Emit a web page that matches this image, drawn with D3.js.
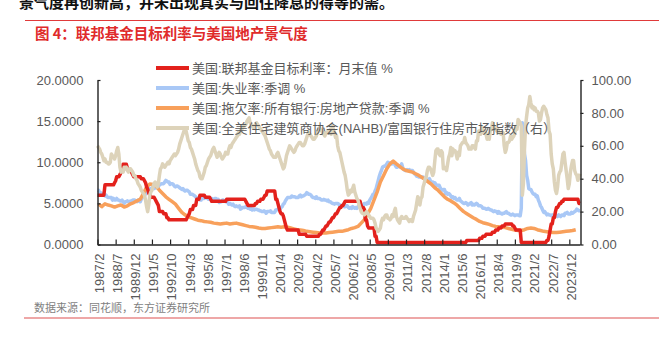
<!DOCTYPE html>
<html><head><meta charset="utf-8">
<script src="https://cdn.jsdelivr.net/npm/d3@7"></script>
<style>body{margin:0;background:#fff}svg{display:block}</style>
</head><body><svg id="c" width="659" height="339"></svg>
<script>
// ---------------- DATA ----------------
const firstYear = 1987, firstMonth = 2, lastYear = 2024, lastMonth = 10;
const tickLabels = ["1987/2","1988/7","1989/12","1991/5","1992/10","1994/3","1995/8","1997/1","1998/6","1999/11","2001/4","2002/9","2004/2","2005/7","2006/12","2008/5","2009/10","2011/3","2012/8","2014/1","2015/6","2016/11","2018/4","2019/9","2021/2","2022/7","2023/12"];
const leftTicks = [0, 5, 10, 15, 20];
const rightTicks = [0, 20, 40, 60, 80, 100];
const seriesNames = ["美国:联邦基金目标利率：月末值 %","美国:失业率:季调 %","美国:拖欠率:所有银行:房地产贷款:季调 %","美国:全美住宅建筑商协会(NAHB)/富国银行住房市场指数（右）"];

// monthly, 1987/2 - 2024/10
const fedRate = [
6.0,6.0,6.0,6.0,6.0,6.0,6.0,7.25,7.25,7.25,7.25,
7.25,7.25,7.25,7.25,7.25,7.5,7.75,8.25,8.25,8.25,8.5,8.75,
9.0,9.75,9.75,9.75,9.75,9.25,9.0,9.0,9.0,8.75,8.5,8.25,
8.25,8.25,8.25,8.25,8.25,8.25,8.0,8.0,8.0,7.75,7.5,7.0,
6.75,6.25,6.0,5.75,5.75,5.75,5.75,5.5,5.25,5.0,4.75,4.0,
4.0,4.0,4.0,3.75,3.75,3.75,3.25,3.25,3.0,3.0,3.0,3.0,
3.0,3.0,3.0,3.0,3.0,3.0,3.0,3.0,3.0,3.0,3.0,3.0,
3.0,3.25,3.5,3.75,4.25,4.25,4.25,4.75,4.75,4.75,5.5,5.5,
5.5,6.0,6.0,6.0,6.0,6.0,5.75,5.75,5.75,5.75,5.75,5.5,
5.25,5.25,5.25,5.25,5.25,5.25,5.25,5.25,5.25,5.25,5.25,5.25,
5.25,5.25,5.5,5.5,5.5,5.5,5.5,5.5,5.5,5.5,5.5,5.5,
5.5,5.5,5.5,5.5,5.5,5.5,5.5,5.5,5.25,5.0,4.75,4.75,
4.75,4.75,4.75,4.75,4.75,5.0,5.0,5.25,5.25,5.25,5.5,5.5,
5.5,5.75,6.0,6.0,6.5,6.5,6.5,6.5,6.5,6.5,6.5,6.5,
5.5,5.5,5.0,4.5,4.0,3.75,3.75,3.5,3.0,2.5,2.0,1.75,
1.75,1.75,1.75,1.75,1.75,1.75,1.75,1.75,1.75,1.75,1.25,1.25,
1.25,1.25,1.25,1.25,1.25,1.0,1.0,1.0,1.0,1.0,1.0,1.0,
1.0,1.0,1.0,1.0,1.0,1.25,1.25,1.5,1.75,1.75,2.0,2.25,
2.25,2.5,2.75,2.75,3.0,3.25,3.25,3.5,3.75,3.75,4.0,4.25,
4.5,4.5,4.75,4.75,5.0,5.25,5.25,5.25,5.25,5.25,5.25,5.25,
5.25,5.25,5.25,5.25,5.25,5.25,5.25,5.25,4.75,4.5,4.5,4.25,
3.0,3.0,2.25,2.0,2.0,2.0,2.0,2.0,2.0,1.0,1.0,0.25,
0.25,0.25,0.25,0.25,0.25,0.25,0.25,0.25,0.25,0.25,0.25,0.25,
0.25,0.25,0.25,0.25,0.25,0.25,0.25,0.25,0.25,0.25,0.25,0.25,
0.25,0.25,0.25,0.25,0.25,0.25,0.25,0.25,0.25,0.25,0.25,0.25,
0.25,0.25,0.25,0.25,0.25,0.25,0.25,0.25,0.25,0.25,0.25,0.25,
0.25,0.25,0.25,0.25,0.25,0.25,0.25,0.25,0.25,0.25,0.25,0.25,
0.25,0.25,0.25,0.25,0.25,0.25,0.25,0.25,0.25,0.25,0.25,0.25,
0.25,0.25,0.25,0.25,0.25,0.25,0.25,0.25,0.25,0.25,0.25,0.5,
0.5,0.5,0.5,0.5,0.5,0.5,0.5,0.5,0.5,0.5,0.5,0.75,
0.75,0.75,1.0,1.0,1.0,1.25,1.25,1.25,1.25,1.25,1.25,1.5,
1.5,1.5,1.75,1.75,1.75,2.0,2.0,2.0,2.25,2.25,2.25,2.5,
2.5,2.5,2.5,2.5,2.5,2.5,2.25,2.25,2.0,1.75,1.75,1.75,
1.75,1.75,0.25,0.25,0.25,0.25,0.25,0.25,0.25,0.25,0.25,0.25,
0.25,0.25,0.25,0.25,0.25,0.25,0.25,0.25,0.25,0.25,0.25,0.25,
0.25,0.25,0.5,0.5,1.0,1.75,2.5,2.5,3.25,3.25,4.0,4.5,
4.5,4.75,5.0,5.0,5.25,5.25,5.5,5.5,5.5,5.5,5.5,5.5,
5.5,5.5,5.5,5.5,5.5,5.5,5.5,5.5,5.0,5.0
];

const unemployment = [
6.6,6.6,6.3,6.3,6.2,6.1,6.0,5.9,6.0,5.8,5.7,
5.7,5.7,5.7,5.4,5.6,5.4,5.4,5.6,5.4,5.4,5.3,5.3,
5.4,5.2,5.0,5.2,5.2,5.3,5.2,5.2,5.3,5.3,5.4,5.4,
5.4,5.3,5.2,5.4,5.4,5.2,5.5,5.7,5.9,5.9,6.2,6.3,
6.4,6.6,6.8,6.7,6.9,6.9,6.8,6.9,6.9,7.0,7.0,7.3,
7.3,7.4,7.4,7.4,7.6,7.8,7.7,7.6,7.6,7.3,7.4,7.4,
7.3,7.1,7.0,7.1,7.1,7.0,6.9,6.8,6.7,6.8,6.6,6.5,
6.6,6.6,6.5,6.4,6.1,6.1,6.1,6.0,5.9,5.8,5.6,5.5,
5.6,5.4,5.4,5.8,5.6,5.6,5.7,5.7,5.6,5.5,5.6,5.6,
5.6,5.5,5.5,5.6,5.6,5.3,5.5,5.1,5.2,5.2,5.4,5.4,
5.3,5.2,5.2,5.1,4.9,5.0,4.9,4.8,4.9,4.7,4.6,4.7,
4.6,4.6,4.7,4.3,4.4,4.5,4.5,4.5,4.6,4.5,4.4,4.4,
4.3,4.4,4.2,4.3,4.2,4.3,4.3,4.2,4.2,4.1,4.1,4.0,
4.0,4.1,4.0,3.8,4.0,4.0,4.0,4.1,3.9,3.9,3.9,3.9,
4.2,4.2,4.3,4.4,4.3,4.5,4.6,4.9,5.0,5.3,5.5,5.7,
5.7,5.7,5.7,5.9,5.8,5.8,5.8,5.7,5.7,5.7,5.9,6.0,
5.8,5.9,5.9,6.0,6.1,6.3,6.2,6.1,6.1,6.0,5.8,5.7,
5.7,5.6,5.8,5.6,5.6,5.6,5.5,5.4,5.4,5.5,5.4,5.4,
5.3,5.4,5.2,5.2,5.1,5.0,5.0,4.9,5.0,5.0,5.0,4.9,
4.7,4.8,4.7,4.7,4.6,4.6,4.7,4.7,4.5,4.4,4.5,4.4,
4.6,4.5,4.4,4.5,4.4,4.6,4.7,4.6,4.7,4.7,4.7,5.0,
5.0,4.9,5.1,5.0,5.4,5.6,5.8,6.1,6.1,6.5,6.8,7.3,
7.8,8.3,8.7,9.0,9.4,9.5,9.5,9.6,9.8,10.0,9.9,9.9,
9.8,9.8,9.9,9.9,9.6,9.4,9.4,9.5,9.5,9.4,9.8,9.3,
9.1,9.0,9.0,9.1,9.0,9.1,9.0,9.0,9.0,8.8,8.6,8.5,
8.3,8.3,8.2,8.2,8.2,8.2,8.2,8.0,7.8,7.8,7.7,7.9,
8.0,7.7,7.5,7.6,7.5,7.5,7.3,7.2,7.2,7.2,6.9,6.7,
6.6,6.7,6.7,6.2,6.3,6.1,6.2,6.1,5.9,5.7,5.8,5.6,
5.7,5.5,5.4,5.4,5.6,5.3,5.2,5.1,5.0,5.0,5.1,5.0,
4.8,4.9,5.0,5.1,4.8,4.9,4.8,4.9,5.0,4.9,4.7,4.7,
4.7,4.6,4.4,4.4,4.4,4.3,4.3,4.4,4.3,4.2,4.2,4.1,
4.0,4.1,4.0,4.0,3.8,4.0,3.8,3.8,3.7,3.8,3.8,3.9,
4.0,3.8,3.8,3.7,3.6,3.6,3.7,3.6,3.5,3.6,3.6,3.6,
3.5,3.5,4.4,14.8,13.2,11.0,10.2,8.4,7.8,6.8,6.7,6.7,
6.4,6.2,6.1,6.1,5.8,5.9,5.4,5.1,4.7,4.5,4.2,3.9,
4.0,3.8,3.6,3.7,3.6,3.6,3.5,3.6,3.5,3.6,3.6,3.5,
3.4,3.6,3.5,3.4,3.6,3.6,3.5,3.8,3.8,3.9,3.7,3.7,
3.7,3.9,3.8,3.9,4.0,4.1,4.3,4.2,4.1,4.1
];

// quarterly delinquency rate (quarter-end months)
const delinqDates = [
"1987/3","1987/6","1987/9","1987/12","1988/3","1988/6","1988/9","1988/12","1989/3","1989/6","1989/9","1989/12",
"1990/3","1990/6","1990/9","1990/12","1991/3","1991/6","1991/9","1991/12","1992/3","1992/6","1992/9","1992/12",
"1993/3","1993/6","1993/9","1993/12","1994/3","1994/6","1994/9","1994/12","1995/3","1995/6","1995/9","1995/12",
"1996/3","1996/6","1996/9","1996/12","1997/3","1997/6","1997/9","1997/12","1998/3","1998/6","1998/9","1998/12",
"1999/3","1999/6","1999/9","1999/12","2000/3","2000/6","2000/9","2000/12","2001/3","2001/6","2001/9","2001/12",
"2002/3","2002/6","2002/9","2002/12","2003/3","2003/6","2003/9","2003/12","2004/3","2004/6","2004/9","2004/12",
"2005/3","2005/6","2005/9","2005/12","2006/3","2006/6","2006/9","2006/12","2007/3","2007/6","2007/9","2007/12",
"2008/3","2008/6","2008/9","2008/12","2009/3","2009/6","2009/9","2009/12","2010/3","2010/6","2010/9","2010/12",
"2011/3","2011/6","2011/9","2011/12","2012/3","2012/6","2012/9","2012/12","2013/3","2013/6","2013/9","2013/12",
"2014/3","2014/6","2014/9","2014/12","2015/3","2015/6","2015/9","2015/12","2016/3","2016/6","2016/9","2016/12",
"2017/3","2017/6","2017/9","2017/12","2018/3","2018/6","2018/9","2018/12","2019/3","2019/6","2019/9","2019/12",
"2020/3","2020/6","2020/9","2020/12","2021/3","2021/6","2021/9","2021/12","2022/3","2022/6","2022/9","2022/12",
"2023/3","2023/6","2023/9","2023/12","2024/3","2024/6"];
const delinqValues = [
4.9,4.6,4.95,4.8,4.7,4.55,4.7,4.8,4.55,4.7,4.95,5.1,
5.3,5.5,6.2,7.0,7.35,7.3,7.1,6.6,6.2,5.8,5.5,5.2,
4.9,4.4,3.9,3.6,3.4,3.25,3.1,2.95,2.9,2.8,2.75,2.7,
2.6,2.55,2.5,2.55,2.6,2.5,2.55,2.6,2.5,2.4,2.3,2.2,
2.15,2.1,2.0,1.95,1.95,2.0,2.05,2.1,2.15,2.1,2.15,2.1,
2.0,1.9,1.8,1.75,1.7,1.6,1.55,1.5,1.45,1.4,1.4,1.4,
1.45,1.5,1.55,1.6,1.6,1.7,1.8,1.95,2.05,2.2,2.6,3.0,
3.7,4.4,5.4,6.4,7.6,8.4,9.2,9.8,10.15,9.8,9.5,9.2,
9.0,8.9,8.8,8.6,8.4,8.15,7.9,7.6,7.3,6.9,6.6,6.2,
5.8,5.5,5.3,5.05,4.75,4.35,4.0,3.75,3.5,3.25,3.05,2.8,
2.65,2.55,2.45,2.3,2.2,2.15,2.1,2.05,1.95,1.85,1.75,1.7,
1.7,1.8,1.95,2.0,1.95,1.8,1.7,1.6,1.55,1.5,1.45,1.45,
1.5,1.55,1.6,1.65,1.7,1.8];

// monthly NAHB index, 1987/2 - 2024/10 (right axis)
const nahb = [
60,59,58,56,55,53,51,52,50,50,49,
49,50,55,54,53,52,54,57,59,55,47,44,
45,44,47,46,47,45,44,46,46,45,44,42,
42,40,39,37,36,35,33,32,31,30,27,23,
20,24,30,32,33,35,37,38,36,35,37,42,
46,47,49,48,47,48,49,50,49,51,52,53,
54,55,54,55,56,58,61,63,65,67,69,71,
69,66,63,62,59,58,56,54,52,49,47,45,
44,41,40,40,42,44,47,48,50,52,53,54,
56,58,59,57,55,53,54,56,55,53,52,53,
54,56,55,55,58,60,59,61,62,63,64,65,
66,68,67,69,70,71,72,72,73,75,76,77,
74,73,72,71,72,73,74,73,72,71,70,69,
68,67,66,64,62,60,58,57,55,54,53,53,
53,55,56,54,52,50,48,46,47,50,54,56,
58,60,59,58,57,56,57,59,60,61,62,62,
61,60,60,61,63,65,67,68,67,66,65,64,
64,65,66,68,70,71,70,69,68,67,66,68,
68,69,68,70,67,72,70,68,65,66,60,57,
56,53,50,47,44,42,38,33,30,31,33,32,
34,36,32,30,28,27,24,22,20,19,19,18,
19,20,19,18,17,16,16,16,15,13,10,9,
8,9,10,14,16,15,17,18,18,16,16,15,
16,18,17,20,22,17,15,14,13,16,17,16,
16,16,17,16,15,14,15,15,14,17,19,21,
25,29,28,24,28,29,35,37,40,41,45,47,
47,46,44,42,44,51,57,58,58,55,54,57,
56,46,47,46,45,49,53,55,59,54,58,57,
57,55,52,56,54,60,61,62,62,65,62,61,
60,58,58,58,60,60,59,58,63,63,69,69,
67,71,70,68,69,67,64,67,64,70,70,74,
72,71,70,69,70,68,68,67,67,68,60,56,
58,62,62,63,66,64,65,66,68,71,70,76,
75,74,72,30,37,58,72,78,83,85,90,86,
83,84,82,83,81,81,80,75,76,80,83,84,
83,82,79,77,69,67,55,49,46,38,33,31,
35,42,44,45,50,55,56,50,45,40,34,37,
44,48,51,51,45,43,42,39,41,43
];

// ---------------- CHART ----------------
const months = [];
for (let y = firstYear, m = firstMonth; y < lastYear || (y === lastYear && m <= lastMonth); ) {
  months.push(y + "/" + m);
  m++; if (m > 12) { m = 1; y++; }
}
const idxOf = s => months.indexOf(s);

const colors = ["#e3211c", "#a9c8f6", "#f8a05b", "#ddd3ba"];
const svg = d3.select("#c");
const numFont = "'Liberation Sans', Arial, 'Noto Sans CJK SC', sans-serif";
const cjkFont = "'Liberation Sans', Arial, 'Noto Sans CJK SC', sans-serif";

// top (partly cropped) text line
svg.append("text").attr("x", 19).attr("y", 8)
  .attr("font-family", cjkFont).attr("font-size", 15).attr("font-weight", "bold").attr("fill", "#111")
  .text("景气度再创新高，并未出现真实与回住降息的得等的需。");
svg.append("line").attr("x1", 25).attr("x2", 659).attr("y1", 20.5).attr("y2", 20.5)
  .attr("stroke", "#e03a3a").attr("stroke-width", 1);
svg.append("text").attr("x", 35).attr("y", 38.5)
  .attr("font-family", "'Noto Sans CJK SC', sans-serif").attr("font-size", 14.5).attr("font-weight", "bold").attr("fill", "#e02b2b")
  .text("图 4：联邦基金目标利率与美国地产景气度");

const x0 = 97.5, x1 = 580.5, yTop = 80, yBot = 244.5;
const x = d3.scaleLinear().domain([0, months.length - 1]).range([x0, x1 - 0.5]);
const yL = d3.scaleLinear().domain([0, 20]).range([yBot, yTop]);
const yR = d3.scaleLinear().domain([0, 100]).range([yBot, yTop]);

const g = svg.append("g");
const lineL = d3.line().x((d, i) => x(i)).y(d => yL(d));
const lineR = d3.line().x((d, i) => x(i)).y(d => yR(d));
const lineQ = d3.line().x(d => x(idxOf(d[0]))).y(d => yL(d[1]));

g.append("path").datum(unemployment).attr("d", lineL).attr("fill", "none").attr("stroke", colors[1]).attr("stroke-width", 3.5).attr("stroke-linejoin", "round");
g.append("path").datum(d3.zip(delinqDates, delinqValues)).attr("d", lineQ).attr("fill", "none").attr("stroke", colors[2]).attr("stroke-width", 3.5).attr("stroke-linejoin", "round");
g.append("path").datum(fedRate).attr("d", lineL).attr("fill", "none").attr("stroke", colors[0]).attr("stroke-width", 3.5).attr("stroke-linejoin", "round");
g.append("path").datum(nahb).attr("d", lineR).attr("fill", "none").attr("stroke", colors[3]).attr("stroke-width", 3.5).attr("stroke-linejoin", "round");

// axes
const axL = svg.append("g").attr("transform", `translate(${x0},0)`)
  .call(d3.axisLeft(yL).tickValues(leftTicks).tickSize(-3).tickSizeOuter(0).tickPadding(14).tickFormat(d3.format(".4f")));
const axR = svg.append("g").attr("transform", `translate(${x1},0)`)
  .call(d3.axisRight(yR).tickValues(rightTicks).tickSize(3).tickSizeOuter(0).tickPadding(8).tickFormat(d3.format(".2f")));
const axB = svg.append("g").attr("transform", `translate(0,${yBot})`)
  .call(d3.axisBottom(x).tickValues(tickLabels.map(idxOf)).tickSize(-5).tickSizeOuter(0).tickFormat((d, i) => tickLabels[i]));
axB.selectAll("text").attr("transform", "rotate(-90)").attr("x", -9).attr("y", 0).attr("dy", "0.45em").attr("text-anchor", "end");

[axL, axR, axB].forEach(a => {
  a.select(".domain").attr("stroke", "#222").attr("stroke-width", 1.4);
  a.selectAll(".tick line").attr("stroke", "#222").attr("stroke-width", 1.2);
  a.selectAll("text").attr("fill", "#595959").attr("font-family", numFont).attr("font-size", 13);
});

// legend
const legY = [68, 88, 108, 128];
const leg = svg.append("g");
seriesNames.forEach((name, i) => {
  leg.append("line").attr("x1", 156).attr("x2", 189).attr("y1", legY[i]).attr("y2", legY[i])
    .attr("stroke", colors[i]).attr("stroke-width", 4);
  leg.append("text").attr("x", 192).attr("y", legY[i] + 4.5)
    .attr("font-family", cjkFont).attr("font-size", 13).attr("fill", "#595959").text(name);
});

// source + bottom rule
svg.append("text").attr("x", 34).attr("y", 312)
  .attr("font-family", cjkFont).attr("font-size", 11).attr("fill", "#7f7f7f")
  .text("数据来源：同花顺，东方证券研究所");
svg.append("line").attr("x1", 24).attr("x2", 659).attr("y1", 318).attr("y2", 318)
  .attr("stroke", "#e88a8a").attr("stroke-width", 1.5);
</script></body></html>
